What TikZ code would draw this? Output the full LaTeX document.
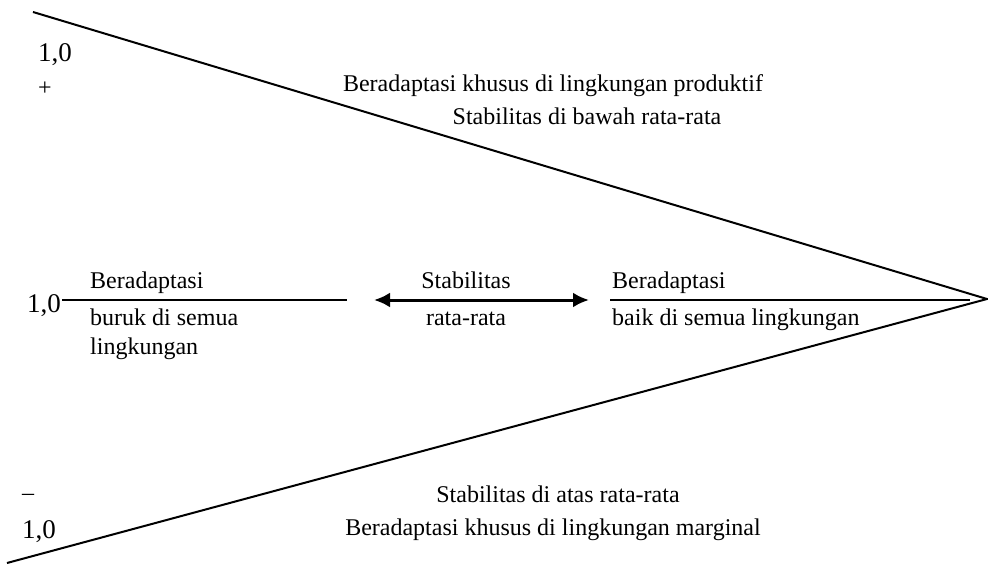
\documentclass[tikz,border=0pt]{standalone}
\usepackage{fontspec}
\setmainfont{Liberation Serif}
\usetikzlibrary{arrows.meta,positioning}

\begin{document}
\begin{tikzpicture}[x=1pt,y=-1pt,
    txt/.style={inner sep=0pt,font=\fontsize{24}{28}\selectfont},
    num/.style={inner sep=0pt,font=\fontsize{27}{30}\selectfont},
    edge/.style={line width=2pt},
    twoway/.style={line width=3pt,{Latex[length=16pt,width=15pt]}-{Latex[length=16pt,width=15pt]}}]
      \useasboundingbox (0,0) rectangle (988,564);

      \coordinate (1) at (33,12);
      \coordinate (2) at (987,299);
      \coordinate (3) at (7,563);
      \coordinate (4) at (62,300);
      \coordinate (5) at (347,300);
      \coordinate (6) at (374,300);
      \coordinate (7) at (589,300);
      \coordinate (8) at (610,300);
      \coordinate (9) at (970,300);

      \draw[edge] (1)--(2)--(3);
      \draw[edge] (4)--(5);
      \draw[edge] (8)--(9);
      \draw[twoway] (6)--(7);

      % left scale
      \node[num,anchor=base west] (top) at (38,62) {1,0};
      \node[txt] (plus) at (45,89) {+};
      \node[num,anchor=base west] (mid) at (27,312) {1,0};
      \node[txt] (minus) at (28,497) {–};
      \node[num,anchor=base west] (low) at (22,538) {1,0};

      % upper region
      \node[txt,anchor=base] (up1) at (553,92) {Beradaptasi khusus di lingkungan produktif};
      \node[txt,anchor=base] (up2) at (587,125) {Stabilitas di bawah rata-rata};

      % middle
      \node[txt,anchor=base west] (poor1) at (90,288) {Beradaptasi};
      \node[txt,anchor=base west] (poor2) at (90,325) {buruk di semua};
      \node[txt,anchor=base west] (poor3) at (90,354) {lingkungan};
      \node[txt,anchor=base] (avg1) at (466,288) {Stabilitas};
      \node[txt,anchor=base] (avg2) at (466,325) {rata-rata};
      \node[txt,anchor=base west] (good1) at (612,288) {Beradaptasi};
      \node[txt,anchor=base west] (good2) at (612,325) {baik di semua lingkungan};

      % lower region
      \node[txt,anchor=base] (lo1) at (558,502) {Stabilitas di atas rata-rata};
      \node[txt,anchor=base] (lo2) at (553,535) {Beradaptasi khusus di lingkungan marginal};
    \end{tikzpicture}
\end{document}
